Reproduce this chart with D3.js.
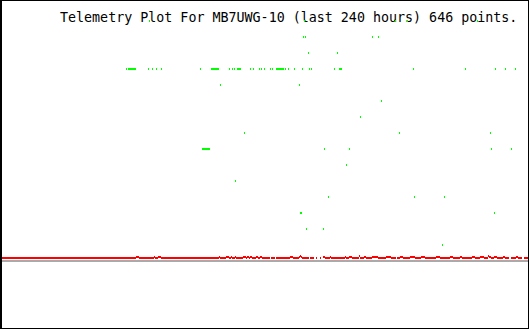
<!DOCTYPE html>
<html><head><meta charset="utf-8">
<script src="https://cdn.jsdelivr.net/npm/d3@7"></script>
<style>html,body{margin:0;padding:0;background:#fff;}svg{display:block;}</style>
</head><body>
<script>
// ---- data (x in hours within the 240 hour window, y in plot units) ----
const titleText = "Telemetry Plot For MB7UWG-10 (last 240 hours) 646 points.";
const hoursWindow = 240;

// green channel: time (hours) and level
const greenHours = [
  67.73,138.18,179.55,185.00,216.82,
  137.73,138.64,169.09,171.82,
  140.00,153.18,
  57.27,58.18,58.64,59.09,59.55,60.00,60.45,60.91,61.36,67.27,69.09,70.91,73.18,90.91,
  95.91,96.36,96.82,97.27,97.73,98.18,98.64,99.09,104.09,105.45,106.36,107.73,108.18,108.64,109.09,
  113.64,115.00,117.73,118.64,120.00,122.73,123.64,125.45,125.91,126.36,126.82,127.27,127.73,128.18,128.64,
  129.55,130.91,133.64,137.27,140.45,141.36,151.82,154.09,154.55,155.00,187.73,211.36,225.00,229.55,234.09,
  100.00,135.91,
  173.18,
  163.64,
  110.91,181.36,222.73,
  91.82,92.27,92.73,93.18,93.64,94.09,94.55,95.00,147.27,158.64,223.18,232.27,
  157.27,
  106.82,
  149.09,188.18,201.82,
  136.36,136.82,224.55,
  139.09,146.82,
  200.91
];
const greenLevels = [
  15,15,15,15,15,
  14,14,14,14,
  13,13,
  12,12,12,12,12,12,12,12,12,12,12,12,12,12,
  12,12,12,12,12,12,12,12,12,12,12,12,12,12,12,
  12,12,12,12,12,12,12,12,12,12,12,12,12,12,12,
  12,12,12,12,12,12,12,12,12,12,12,12,12,12,12,
  11,11,
  10,
  9,
  8,8,8,
  7,7,7,7,7,7,7,7,7,7,7,7,
  6,
  5,
  4,4,4,
  3,3,3,
  2,2,
  1
];

// red channel: step series, level holds from each hour until the next; null = no data
const redHours = [
  0.45,61.82,63.18,70.00,70.45,71.82,73.18,99.55,100.00,102.73,104.09,105.00,105.45,106.82,107.27,
  110.45,111.82,112.27,113.18,113.64,114.55,116.36,117.27,118.18,119.09,122.73,123.18,125.00,125.45,
  131.82,133.18,135.91,136.36,136.82,137.27,140.45,140.91,142.73,143.64,144.09,145.45,145.91,146.82,
  147.73,150.00,150.45,156.82,157.27,158.64,160.00,163.18,163.64,165.45,166.36,169.09,171.82,175.45,
  177.73,180.00,180.45,181.82,183.18,186.36,188.64,191.36,193.18,198.18,200.00,204.55,205.91,209.09,
  210.00,214.55,215.91,218.18,220.00,221.82,222.27,223.18,224.55,225.91,228.64,229.55,231.36,232.27,
  234.55,235.45,237.27,238.18,240.00
];
const redLevels = [
  0.1875,0.25,0.1875,0.25,0.1875,0.25,0.1875,0.25,0.1875,0.25,0.1875,0.25,0.1875,0.25,0.1875,
  0.25,0.1875,0.25,0.1875,0.25,0.1875,0.25,0.1875,0.25,0.1875,null,0.1875,null,0.1875,
  0.25,0.1875,0.25,0.3125,0.25,0.1875,null,0.1875,null,0.1875,null,0.1875,null,0.25,
  0.1875,0.25,0.1875,0.25,0.1875,0.25,0.1875,0.3125,0.1875,0.25,0.1875,0.25,0.1875,0.25,
  0.1875,null,0.1875,0.25,0.1875,0.25,0.1875,0.25,0.1875,0.25,0.1875,0.25,0.1875,0.25,
  0.1875,0.25,0.1875,0.25,0.1875,0.3125,0.25,0.1875,0.25,0.1875,0.25,0.1875,null,0.1875,
  0.25,0.1875,null,0.1875,null
];

// grey reference line level
const greyLevel = 0;
const levelMax = 16;

// ---- drawing ----
const W = 530, H = 330;
const svg = d3.select("body").append("svg").attr("width", W).attr("height", H)
  .attr("shape-rendering", "crispEdges");

const xs = d3.scaleLinear().domain([0, hoursWindow]).range([0, 528]);
const ys = d3.scaleLinear().domain([0, levelMax]).range([261, 5]);

svg.append("rect").attr("width", W).attr("height", H).attr("fill", "#fff");

// grey baseline
svg.append("rect")
  .attr("x", 2).attr("width", 526)
  .attr("y", Math.round(ys(greyLevel)) - 1).attr("height", 2)
  .attr("fill", "#aaaaaa");

// red step series
const redRuns = [];
for (let i = 0; i < redHours.length - 1; i++) {
  if (redLevels[i] !== null) redRuns.push({ a: redHours[i], b: redHours[i + 1], v: redLevels[i] });
}
svg.append("g").selectAll("rect").data(redRuns).join("rect")
  .attr("x", d => Math.round(xs(d.a)))
  .attr("width", d => Math.max(1, Math.round(xs(d.b)) - Math.round(xs(d.a))))
  .attr("y", d => Math.round(ys(d.v)) - 1)
  .attr("height", 2)
  .attr("fill", "#ff0000");

// title
svg.append("text")
  .attr("x", 60).attr("y", 22)
  .attr("font-family", "'DejaVu Sans Mono', monospace")
  .attr("font-size", "13.33px")
  .attr("fill", "#000")
  .text(titleText);

// green points
const greenPts = greenHours.map((h, i) => ({ h, v: greenLevels[i] }));
svg.append("g").selectAll("rect").data(greenPts).join("rect")
  .attr("x", d => Math.round(xs(d.h)))
  .attr("y", d => Math.round(ys(d.v)) - 1)
  .attr("width", 1).attr("height", 2)
  .attr("fill", "#00ff00");

// frame
const frame = svg.append("g").attr("fill", "#000");
frame.append("rect").attr("x", 0).attr("y", 0).attr("width", 2).attr("height", 329);
frame.append("rect").attr("x", 0).attr("y", 0).attr("width", 529).attr("height", 1);
frame.append("rect").attr("x", 528).attr("y", 0).attr("width", 1).attr("height", 329);
frame.append("rect").attr("x", 0).attr("y", 328).attr("width", 529).attr("height", 1);
</script>
</body></html>
